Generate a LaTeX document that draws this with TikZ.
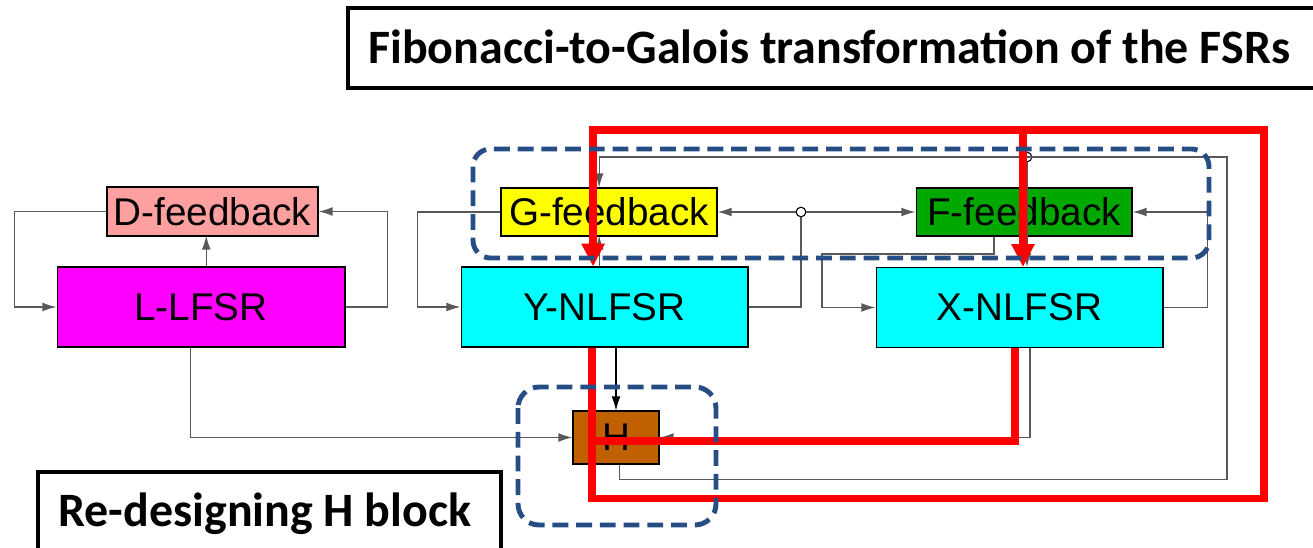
\documentclass[tikz,border=0pt]{standalone}
\usepackage{fontspec}
\setmainfont{Liberation Sans}
\newfontfamily\calfont{Carlito}
\usetikzlibrary{arrows.meta}
\definecolor{dfbpink}{HTML}{FFA0A0}
\definecolor{lmag}{HTML}{FF00FF}
\definecolor{gyel}{HTML}{FFFF00}
\definecolor{nlcyan}{HTML}{00FFFF}
\definecolor{ffbgreen}{HTML}{00A800}
\definecolor{hbrown}{HTML}{C06000}
\definecolor{grpblue}{RGB}{38,78,132}

\begin{document}
\begin{tikzpicture}[x=0.02cm, y=-0.02cm,
  blk/.style={draw, line width=0.6pt, inner sep=0pt, font=\fontsize{22}{26}\selectfont},
  conn/.style={draw=black!65, line width=0.75pt},
  arr/.style={-{Latex[length=8pt,width=5pt]}},
  redln/.style={draw=red, line width=4.5pt},
  redarr/.style={-{Triangle[length=13pt,width=12.5pt]}},
  junc/.style={circle, draw, line width=0.6pt, inner sep=0pt, minimum size=5.5pt},
  grpbox/.style={draw=grpblue, line width=2.8pt, dash pattern=on 9pt off 4.5pt},
  ttlbox/.style={draw=black, line width=2.4pt},
  ttl/.style={font=\calfont\bfseries\fontsize{27.3}{32}\selectfont, inner sep=0pt}]
  \useasboundingbox (0,0) rectangle (1313,548);
  \clip (0,0) rectangle (1313,548);

  \node[blk, fill=dfbpink, minimum width=4.22cm, minimum height=0.98cm] (dfb) at (212.5,211.5) {D-feedback};
  \node[blk, fill=lmag, minimum width=5.76cm, minimum height=1.6cm] (llfsr) at (201,307) {L-LFSR};
  \node[blk, fill=gyel, minimum width=4.32cm, minimum height=0.96cm] (gfb) at (609,212) {G-feedback};
  \node[blk, fill=nlcyan, minimum width=5.74cm, minimum height=1.6cm] (ynlfsr) at (604.5,307) {Y-NLFSR};
  \node[blk, fill=ffbgreen, minimum width=4.32cm, minimum height=0.96cm] (ffb) at (1024,212) {F-feedback};
  \node[blk, fill=nlcyan, minimum width=5.74cm, minimum height=1.6cm] (xnlfsr) at (1019.5,307.5) {X-NLFSR};
  \node[blk, fill=hbrown, minimum width=1.72cm, minimum height=1.06cm] (hblk) at (616,437.5) {H};
  \node[junc] (j1) at (801,212) {};
  \node[junc] (j2) at (1027,157) {};
  \coordinate (tr) at (1227,157);
  \coordinate (fx) at (822,254);

  \draw[conn, arr] (dfb.west) -- ++(-92,0) |- (llfsr.west);
  \draw[conn, arr] (llfsr.east) -- ++(42,0) |- (dfb.east);
  \draw[conn, arr] ([xshift=3pt]llfsr.north) -- ++(0,-31);
  \draw[conn, arr] ([xshift=-6pt]llfsr.south) |- (hblk.west);
  \draw[conn, arr] (gfb.west) -- ++(-83,0) |- (ynlfsr.west);
  \draw[conn] (ynlfsr.east) -| (j1);
  \draw[conn, arr] (j1) -- (gfb.east);
  \draw[conn, arr] (j1) -- (ffb.west);
  \draw[conn, arr] ([xshift=-3pt]ynlfsr.north) -- ++(0,-31);
  \draw[conn, arr] ([xshift=2pt]hblk.south) -- ++(0,15) -| (tr) -| ([xshift=-5.6pt]gfb.north);
  \draw[conn, arr] (j2) -- (j2 |- xnlfsr.north);
  \draw[conn, arr] ([xshift=-17pt]ffb.south) |- (fx) |- (xnlfsr.west);
  \draw[conn, arr] (xnlfsr.east) -- ++(44,0) |- (ffb.east);
  \draw[conn, arr] ([xshift=6pt]xnlfsr.south) |- (hblk.east);
  \draw[black, arr, line width=0.6pt] (ynlfsr.south -| hblk.north) -- (hblk.north);

  \coordinate (rtop) at (1264,130);
  \coordinate (rbr) at (1023,130);
  \coordinate (rhc) at (592,441);
  \draw[redln, redarr] ([xshift=-7pt]ynlfsr.south) -- ++(0,151) -| (rtop) -| ([xshift=-6.5pt]ynlfsr.north);
  \draw[redln, redarr] (rbr) -- (rbr |- xnlfsr.north);
  \draw[redln] ([xshift=-2.5pt]xnlfsr.south) |- (rhc);

  \draw[grpbox, rounded corners=10pt] (473,149) rectangle (1209,258);
  \draw[grpbox, rounded corners=12pt] (518,387) rectangle (716,525);

  \draw[ttlbox] (348,8) rectangle (1340,88);
  \node[ttl, anchor=base west] (fgt) at (368,63) {Fibonacci-to-Galois transformation of the FSRs};
  \draw[ttlbox] (38,472) rectangle (501,570);
  \node[ttl, anchor=base west] (rdh) at (58,526) {Re-designing H block};
\end{tikzpicture}
\end{document}
